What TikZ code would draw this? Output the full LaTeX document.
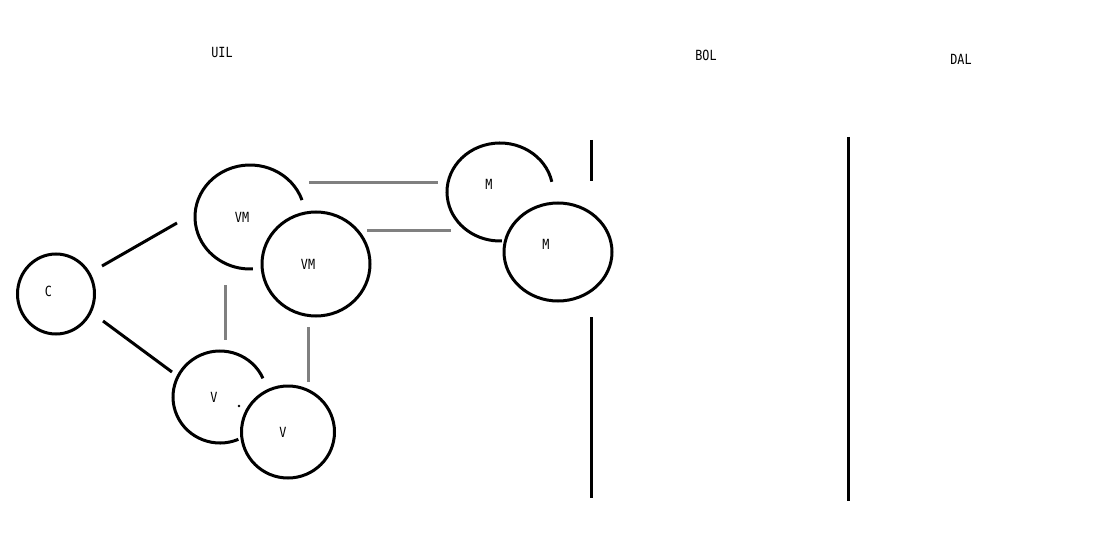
\documentclass[tikz,border=0pt]{standalone}
\usepackage{fontspec}
\newfontfamily\lblfont[FakeStretch=0.84]{DejaVu Sans Mono}
\usetikzlibrary{shapes.geometric}
\begin{document}
\begin{tikzpicture}[x=1pt,y=-1pt,
  lbl/.style={inner sep=0pt,font=\lblfont\fontsize{14}{16}\selectfont,text=black},
  ring/.style={draw=black,line width=3pt},
  blk/.style={draw=black,line width=3pt},
  gry/.style={draw=black!50,line width=3pt}]
\useasboundingbox[fill=white] (0,0) rectangle (1102,540);
% titles
\node[lbl] (uil) at (222,52) {UIL};
\node[lbl] (bol) at (706,55) {BOL};
\node[lbl] (dal) at (961,59) {DAL};
% circles
\draw[ring] (56,294) ellipse [x radius=38.5,y radius=40];
\draw[ring] (250,217) ++(-19:55 and 52) arc [start angle=-19,end angle=-273,x radius=55,y radius=52];
\draw[ring] (316,264) ellipse [x radius=54,y radius=52];
\draw[ring] (500,192) ++(-12:53 and 49) arc [start angle=-12,end angle=-272,x radius=53,y radius=49];
\draw[ring] (558,252) ellipse [x radius=54,y radius=49];
\draw[ring] (220,397) ++(-24:47 and 46) arc [start angle=-24,end angle=-293,x radius=47,y radius=46];
\draw[ring] (288,432) ellipse [x radius=46.5,y radius=46];
\fill[black] (239,406) circle (1.3);
% labels
\node[lbl] (c) at (48.5,291) {C};
\node[lbl] (vma) at (242,217) {VM};
\node[lbl] (vmb) at (308,264) {VM};
\node[lbl] (ma) at (489,184) {M};
\node[lbl] (mb) at (546,244) {M};
\node[lbl] (va) at (214,397) {V};
\node[lbl] (vb) at (283,432) {V};
% connector end points
\coordinate (c1) at (102,266); \coordinate (vma1) at (177,223);
\coordinate (c2) at (103,321); \coordinate (va1) at (172,372);
\coordinate (vma2) at (225,285); \coordinate (va2) at (225,340);
\coordinate (vmb2) at (308,327); \coordinate (vb2) at (308,382);
\coordinate (vma3) at (309,183); \coordinate (ma3) at (438,183);
\coordinate (vmb3) at (367,230); \coordinate (mb3) at (451,230);
\draw[blk] (c1) -- (vma1);
\draw[blk] (c2) -- (va1);
\draw[gry] (vma2) -- (va2);
\draw[gry] (vmb2) -- (vb2);
\draw[gry] (vma3) -- (ma3);
\draw[gry] (vmb3) -- (mb3);
% vertical bars
\coordinate (b1t) at (591,140); \coordinate (b1m) at (591,181);
\coordinate (b1n) at (591,317); \coordinate (b1b) at (591,498);
\coordinate (b2t) at (848,137); \coordinate (b2b) at (848,501);
\draw[blk] (b1t) -- (b1m);
\draw[blk] (b1n) -- (b1b);
\draw[blk] (b2t) -- (b2b);
\end{tikzpicture}
\end{document}
